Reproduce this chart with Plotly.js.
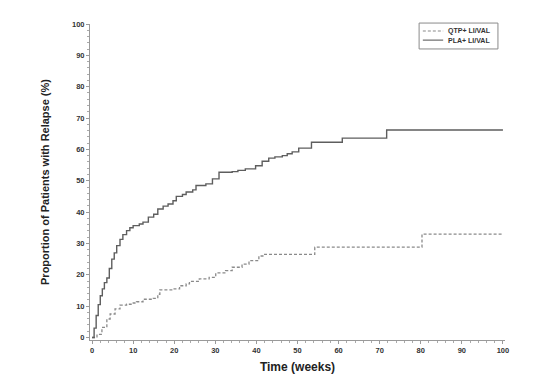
<!DOCTYPE html>
<html><head><meta charset="utf-8">
<script src="https://cdn.plot.ly/plotly-3.0.1.min.js"></script>
<style>html,body{margin:0;padding:0;background:#fff}#chart{width:549px;height:390px}</style>
</head><body><div id="chart"></div>
<script>
const seriesNames = ["QTP+ LI/VAL", "PLA+ LI/VAL"];
const qtpWeeks = [0, 1.2, 2.4, 3.6, 4.4, 5.6, 6.8, 8.4, 9.5, 10.8, 12.4, 14.9, 16, 16.5, 19.7, 21.3, 22.9, 23.7, 26.1, 28.5, 30.1, 32.5, 34.1, 36.5, 38.2, 40.6, 41.8, 54.2, 80.3, 100];
const qtpValues = [0, 1, 3.2, 5.9, 7.5, 9.1, 10.3, 10.6, 11, 11.4, 12.2, 12.5, 13.8, 15.2, 15.5, 16.5, 17.1, 17.9, 18.7, 19.2, 20.6, 21.3, 22.4, 23.4, 24.5, 26, 26.5, 28.8, 33, 33];
const plaWeeks = [0, 0.5, 1, 1.5, 2, 2.5, 3, 3.6, 4.2, 4.8, 5.4, 6, 6.8, 7.5, 8.4, 9.2, 10, 11.5, 12.4, 13.7, 15, 16, 17.3, 18.5, 19.7, 20.5, 22, 22.9, 24.5, 25.3, 27.7, 29.3, 30.9, 34.1, 35.5, 37.3, 39.8, 41.4, 43, 44.5, 46.3, 47.5, 48.7, 50.3, 53.4, 60.9, 71.7, 100];
const plaValues = [0, 3, 7, 10.5, 13.3, 15.5, 17.5, 19, 22, 25, 27, 29.3, 31.3, 32.8, 34.1, 35, 35.7, 36.2, 36.8, 38.4, 39.3, 41, 41.9, 42.6, 43.6, 45, 45.6, 46.4, 47.1, 48.5, 49, 50.6, 52.7, 52.9, 53.3, 53.8, 54.8, 56.2, 57.2, 57.6, 58, 58.6, 59.2, 60.4, 62.3, 63.6, 66.2, 66.2];
const xTitle = "Time (weeks)";
const yTitle = "Proportion of Patients with Relapse (%)";

const font = "Liberation Sans, Arial, sans-serif";
const styles = [
  {shape: "hv", dash: "3px,2px", color: "#8a8a8a", width: 1.3},
  {shape: "hv", color: "#5e5e5e", width: 1.4}
];
const traces = [
  {x: qtpWeeks, y: qtpValues, name: seriesNames[0], mode: "lines", line: styles[0]},
  {x: plaWeeks, y: plaValues, name: seriesNames[1], mode: "lines", line: styles[1]}
];
// compact legend drawn in paper coordinates (like the original SAS legend)
const legRows = [0.978, 0.949];
const shapes = [
  {type: "rect", xref: "paper", yref: "paper", x0: 0.793, x1: 0.983, y0: 0.921, y1: 1.003,
   line: {color: "#8a8a8a", width: 1}, fillcolor: "#fff"}
];
const annotations = [];
seriesNames.forEach((n, i) => {
  shapes.push({type: "line", xref: "paper", yref: "paper", x0: 0.802, x1: 0.851, y0: legRows[i], y1: legRows[i],
    line: {color: styles[i].color, width: 1.1, dash: styles[i].dash}});
  annotations.push({xref: "paper", yref: "paper", x: 0.857, y: legRows[i], xanchor: "left", yanchor: "middle",
    text: n, showarrow: false, font: {family: font, size: 7, color: "#333", weight: "bold"}});
});
const axisCommon = {
  showgrid: false, zeroline: false, showline: true, linecolor: "#9a9a9a", linewidth: 1,
  ticks: "outside", ticklen: 3, tickcolor: "#9a9a9a", dtick: 10, tick0: 0,
  minor: {dtick: 2, ticks: "outside", ticklen: 2, tickcolor: "#aaaaaa"},
  tickfont: {family: font, size: 7.5, color: "#333", weight: "bold"}
};
const layout = {
  width: 549, height: 390,
  margin: {l: 90, r: 44, t: 24, b: 50},
  paper_bgcolor: "#fff", plot_bgcolor: "#fff",
  showlegend: false,
  shapes: shapes, annotations: annotations,
  xaxis: Object.assign({}, axisCommon, {range: [-0.5, 100.5],
    title: {text: xTitle, standoff: 8, font: {family: font, size: 12, color: "#222", weight: "bold"}}}),
  yaxis: Object.assign({}, axisCommon, {range: [-0.8, 100],
    title: {text: yTitle, standoff: 20, font: {family: font, size: 11, color: "#222", weight: "bold"}}})
};
Plotly.newPlot("chart", traces, layout, {displayModeBar: false, staticPlot: true});
</script></body></html>
